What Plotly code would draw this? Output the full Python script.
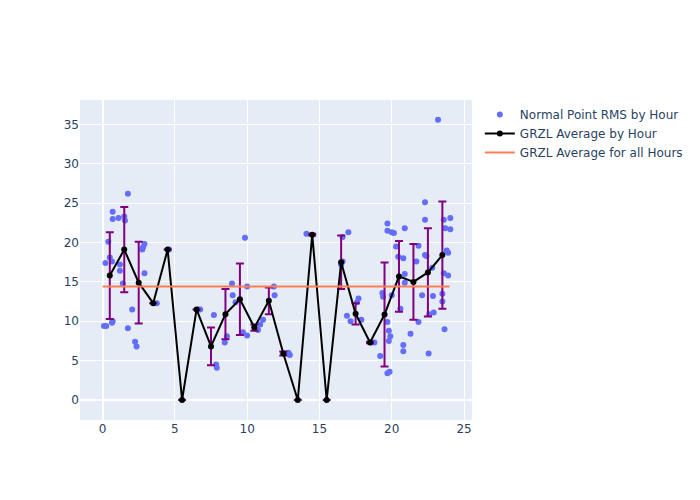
import plotly.graph_objects as go

# Normal point RMS scatter (hour of day, RMS)
point_hours = [0.1, 0.25, 0.2, 0.4, 0.5, 0.65, 0.65, 0.7, 0.7, 0.7,
               1.1, 1.2, 1.2, 1.4, 1.5, 1.55, 1.75, 1.75,
               2.05, 2.25, 2.35, 2.75, 2.8, 2.9, 2.9,
               3.75, 4.6, 6.65, 6.75,
               7.7, 7.85, 7.9,
               8.45, 8.6, 8.95, 9.0, 9.2,
               9.85, 10.0, 9.7, 10.0,
               10.5, 10.75, 10.9, 11.1,
               11.85, 11.9, 12.85, 12.95, 14.1,
               16.6, 17.0, 16.5, 16.6, 16.9, 17.15,
               17.6, 17.7, 17.9,
               18.6, 18.8, 19.2,
               19.35, 19.4, 19.7, 19.7, 19.7, 19.8, 19.9, 19.8, 19.7, 19.85, 20.0, 20.0,
               20.15, 20.3, 20.45, 20.8, 20.9, 20.9, 20.9, 20.6, 20.8, 20.8,
               21.3, 21.7, 21.85, 21.85,
               22.1, 22.3, 22.3, 22.3, 22.4, 22.6, 22.55, 22.8, 22.85, 22.9,
               23.2, 23.5, 23.5, 23.6, 23.6, 23.65, 23.7, 23.8, 23.9, 23.9, 24.05, 24.05]
point_rms = [9.4, 9.4, 17.4, 20.1, 18.1, 17.6, 9.8, 10.0, 23.9, 23.0,
             23.1, 17.2, 16.4, 14.8, 23.3, 22.8, 26.2, 9.1,
             11.5, 7.4, 6.8, 19.1, 19.4, 19.8, 16.1,
             12.3, 19.1, 11.5, 11.5,
             10.8, 4.5, 4.1,
             7.3, 8.1, 14.8, 13.3, 12.4,
             20.6, 14.4, 8.6, 8.2,
             9.3, 8.9, 9.6, 10.2,
             14.4, 13.3, 6.0, 5.7, 21.1,
             20.7, 21.3, 17.2, 17.6, 10.7, 10.0,
             12.4, 12.9, 10.2,
             7.3, 7.3, 5.6,
             13.6, 13.1, 22.4, 21.5, 9.9, 8.8, 8.1, 7.5, 3.4, 3.6, 21.3, 13.3,
             21.2, 19.5, 18.2, 18.0, 21.8, 16.0, 14.9, 11.6, 7.0, 6.2,
             8.4, 17.6, 19.6, 9.9,
             13.3, 25.1, 22.9, 18.4, 18.3, 10.9, 5.9, 16.8, 13.2, 11.1,
             35.6, 13.5, 12.5, 16.1, 22.9, 9.0, 21.8, 19.0, 18.7, 15.8, 23.1, 21.7]

# Hourly averages with standard deviation
avg_hours = [0.5, 1.5, 2.5, 3.5, 4.5, 5.5, 6.5, 7.5, 8.5, 9.5, 10.5, 11.5,
             12.5, 13.5, 14.5, 15.5, 16.5, 17.5, 18.5, 19.5, 20.5, 21.5, 22.5, 23.5]
avg_rms = [15.8, 19.1, 14.9, 12.3, 19.1, 0.0, 11.5, 6.8, 10.9, 12.8, 9.2, 12.6,
           5.9, 0.0, 21.0, 0.0, 17.5, 10.95, 7.3, 10.85, 15.7, 15.0, 16.2, 18.4]
avg_std = [5.5, 5.4, 5.2, 0.0, 0.0, 0.0, 0.0, 2.4, 3.2, 4.55, 0.4, 1.7,
           0.25, 0.0, 0.1, 0.0, 3.4, 1.35, 0.1, 6.6, 4.5, 4.8, 5.6, 6.8]

# Overall average
overall_hours = [0, 24]
overall_avg = [14.4, 14.4]

fig = go.Figure()
fig.add_trace(go.Scatter(
    x=point_hours, y=point_rms, mode="markers",
    name="Normal Point RMS by Hour",
    marker=dict(color="#636EFA", size=6),
))
fig.add_trace(go.Scatter(
    x=avg_hours, y=avg_rms, mode="lines+markers",
    name="GRZL Average by Hour",
    line=dict(color="black", width=2),
    marker=dict(color="black", size=6),
    error_y=dict(type="data", array=avg_std, visible=True,
                 color="purple", thickness=2, width=4),
))
fig.add_trace(go.Scatter(
    x=overall_hours, y=overall_avg, mode="lines",
    name="GRZL Average for all Hours",
    line=dict(color="coral", width=2),
))
fig.update_layout(
    width=700, height=500,
    template="plotly",
    font=dict(family="DejaVu Sans"),
    margin=dict(l=80, t=100, b=80),
)
fig.update_xaxes(range=[-1.56, 25.55])
fig.update_yaxes(range=[-2.54, 38.1])
fig.write_html("out.html", config={"displayModeBar": False},
               post_script="document.body.style.margin='0';")
